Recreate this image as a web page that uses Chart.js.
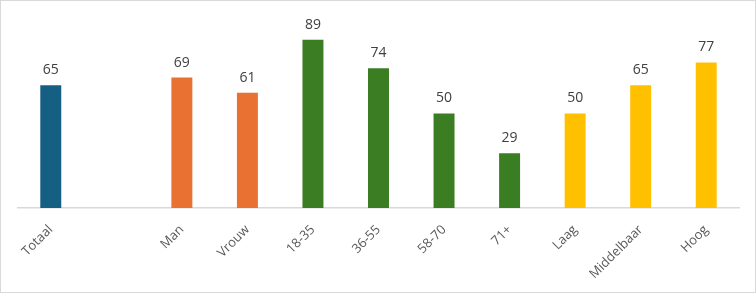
<!DOCTYPE html>
<html>
<head>
<meta charset="utf-8">
<script src="https://cdn.jsdelivr.net/npm/chart.js@4"></script>
<style>
  html, body { margin: 0; padding: 0; background: #fff; }
  #wrap { position: relative; width: 754px; height: 291px; border: 1px solid #d9d9d9; }
</style>
</head>
<body>
<div id="wrap"><canvas id="chart"></canvas></div>
<script>
// categories (empty slot between Totaal and Man)
const categories = ['Totaal', '', 'Man', 'Vrouw', '18-35', '36-55', '58-70', '71+', 'Laag', 'Middelbaar', 'Hoog'];
const values = [65, null, 69, 61, 89, 74, 50, 29, 50, 65, 77];
const barColors = ['#156082', '#156082', '#E97132', '#E97132', '#3B7D23', '#3B7D23', '#3B7D23', '#3B7D23', '#FFC000', '#FFC000', '#FFC000'];

// simple value labels above each bar
const valueLabels = {
    id: 'valueLabels',
    afterDatasetsDraw(chart) {
        const ctx = chart.ctx;
        const meta = chart.getDatasetMeta(0);
        ctx.save();
        ctx.font = '14px "Open Sans", sans-serif';
        ctx.fillStyle = '#404040';
        ctx.textAlign = 'center';
        ctx.textBaseline = 'bottom';
        meta.data.forEach(function(bar, i) {
            if (values[i] == null) return;
            ctx.fillText(values[i], bar.x, bar.y - 8);
        });
        ctx.restore();
    }
};

new Chart(document.getElementById('chart'), {
    type: 'bar',
    data: {
        labels: categories,
        datasets: [{
            data: values,
            backgroundColor: barColors,
            barPercentage: 0.32,
            categoryPercentage: 1
        }]
    },
    options: {
        responsive: true,
        maintainAspectRatio: false,
        animation: false,
        layout: { padding: { left: 17, right: 16, top: 18, bottom: 0 } },
        plugins: {
            legend: { display: false },
            tooltip: { enabled: false }
        },
        scales: {
            x: {
                grid: { display: false },
                border: { color: '#d9d9d9', width: 1.5 },
                ticks: {
                    color: '#595959',
                    font: { family: '"Open Sans", sans-serif', size: 13 },
                    minRotation: 45,
                    maxRotation: 45,
                    autoSkip: false,
                    padding: 6
                },
                afterFit: function(scale) { scale.height = 84; }
            },
            y: {
                display: false,
                min: 0,
                max: 100
            }
        }
    },
    plugins: [valueLabels]
});
</script>
</body>
</html>
